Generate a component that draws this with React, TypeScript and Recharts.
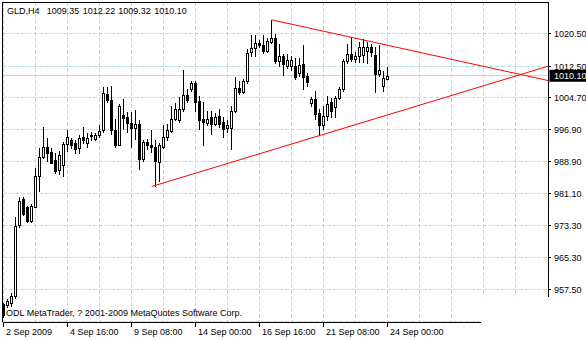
import React from "react";
import {
  ComposedChart,
  Bar,
  XAxis,
  YAxis,
  CartesianGrid,
  ReferenceLine,
  ReferenceArea,
} from "recharts";

// ---- data ----
const symbol = "GLD";
const period = "H4";
const copyright = "ODL MetaTrader, ? 2001-2009 MetaQuotes Software Corp.";

const opens = [
  953.81, 953.68, 954.18, 955.9, 973.49, 979.65, 977.68, 974.48, 977.92, 985.31,
  990.23, 992.69, 991.46, 989.49, 987.03, 988.26, 993.3, 994.17, 993.43, 992.2,
  995.15, 993.55, 995.64, 994.66, 995.4, 996.63, 1005.73, 1004.18, 996.63, 993.18,
  1000.56, 1000.07, 998.47, 997.24, 998.23, 989.66, 993.92, 993.11, 992.69, 989.0,
  992.69, 995.15, 996.45, 999.51, 999.33, 1001.97, 1005.41, 1006.89, 1008.27, 1004.01,
  999.51, 998.42, 999.9, 998.28, 1000.32, 998.67, 997.29, 997.29, 1001.55, 1007.14,
  1006.22, 1008.69, 1015.9, 1016.88, 1018.11, 1017.79, 1016.14, 1018.36, 1019.44, 1013.68,
  1015.08, 1012.62, 1012.38, 1012.62, 1010.9, 1013.04, 1009.99, 1003.44, 1004.26, 1000.98,
  998.03, 1000.32, 1003.52, 1002.36, 1004.58, 1006.72, 1013.61, 1015.5, 1014.27, 1015.08,
  1015.33, 1016.31, 1017.13, 1015.26, 1010.58, 1007.7, 1009.35,
];
const highs = [
  954.3, 955.28, 956.76, 975.22, 980.26, 980.38, 978.17, 978.66, 987.52, 992.2,
  997.37, 994.9, 992.2, 990.97, 991.7, 993.75, 996.63, 994.9, 994.17, 995.4,
  997.37, 995.96, 996.21, 995.96, 997.86, 1007.28, 1007.28, 1007.7, 999.51, 1003.27,
  1004.5, 1001.13, 1001.13, 1001.72, 999.09, 994.41, 994.58, 996.63, 994.17, 993.43,
  997.86, 998.28, 1002.78, 1003.35, 1004.82, 1011.57, 1006.96, 1008.93, 1008.93, 1005.24,
  1003.59, 1001.55, 1001.55, 1000.88, 1001.97, 1000.07, 999.09, 1002.78, 1009.74, 1008.76,
  1009.42, 1016.73, 1020.18, 1020.25, 1018.95, 1020.01, 1019.27, 1023.87, 1020.42, 1017.96,
  1015.5, 1015.5, 1014.84, 1014.35, 1014.35, 1017.55, 1010.9, 1004.99, 1006.47, 1001.97,
  1002.78, 1005.07, 1004.75, 1005.24, 1007.28, 1014.27, 1017.96, 1019.59, 1015.9, 1018.36,
  1019.19, 1018.36, 1017.96, 1017.13, 1017.55, 1011.39, 1012.22,
];
const lows = [
  950.61, 953.31, 953.56, 955.53, 973.0, 975.95, 974.23, 974.23, 977.68, 981.86,
  989.74, 989.24, 988.51, 986.29, 986.04, 985.55, 991.7, 992.44, 991.21, 990.97,
  993.67, 992.52, 994.17, 994.34, 995.15, 996.38, 1003.52, 995.89, 992.52, 992.94,
  997.12, 996.21, 992.52, 994.58, 987.2, 989.24, 992.12, 991.29, 982.85, 984.32,
  992.2, 994.17, 996.38, 999.09, 998.84, 1001.55, 1003.76, 1006.47, 1001.55, 997.12,
  993.18, 997.86, 995.89, 998.1, 997.44, 994.98, 996.21, 992.12, 1001.3, 1005.73,
  1005.98, 1008.44, 1015.08, 1014.84, 1017.3, 1015.82, 1016.07, 1018.28, 1013.36, 1012.62,
  1010.41, 1012.13, 1011.64, 1009.18, 1009.92, 1006.89, 1007.53, 1002.78, 999.58, 995.57,
  997.12, 999.09, 999.83, 999.9, 1004.5, 1006.47, 1013.36, 1013.85, 1013.44, 1013.44,
  1013.44, 1013.29, 1015.08, 1006.05, 1009.92, 1006.3, 1009.32,
];
const closes = [
  951.34, 954.67, 955.9, 973.25, 979.4, 976.2, 974.48, 978.05, 985.55, 990.23,
  992.57, 991.21, 988.75, 986.54, 990.72, 993.3, 995.15, 993.18, 992.07, 994.9,
  994.29, 994.78, 995.27, 995.57, 996.45, 1005.98, 1004.13, 996.63, 992.94, 1002.78,
  999.7, 998.47, 997.24, 998.23, 989.66, 993.92, 993.11, 992.52, 989.07, 992.94,
  995.15, 996.8, 999.51, 1001.87, 1001.97, 1005.41, 1004.18, 1008.37, 1003.76, 999.09,
  998.67, 999.51, 998.28, 1000.07, 998.28, 997.05, 998.1, 1001.55, 1007.14, 1006.22,
  1008.69, 1015.75, 1016.98, 1018.11, 1017.72, 1016.14, 1018.6, 1019.44, 1013.68, 1015.08,
  1013.04, 1014.03, 1014.1, 1009.74, 1012.87, 1009.74, 1008.51, 1004.26, 1000.74, 998.03,
  1000.32, 1003.2, 1001.55, 1004.58, 1006.72, 1013.61, 1015.5, 1014.27, 1015.08, 1017.13,
  1017.13, 1017.13, 1015.9, 1010.58, 1011.64, 1009.5, 1010.1,
];

// x axis: bar numbers carrying a date label, and bar numbers of the vertical grid
const dateTickBars = [0, 16, 32, 48, 64, 80, 96];
const dateTickLabels = [
  "2 Sep 2009",
  "4 Sep 16:00",
  "9 Sep 08:00",
  "14 Sep 00:00",
  "16 Sep 16:00",
  "21 Sep 08:00",
  "24 Sep 00:00",
];
const gridBars = [0, 8, 16, 24, 32, 40, 48, 56, 64, 72, 80, 88, 96, 104, 112, 120, 128];

// y axis: price labels, the grid line below them, and the current bid
const priceTicks = [1020.5, 1012.5, 1004.7, 996.9, 988.9, 981.1, 973.3, 965.3, 957.5];
const priceGridBelow = [949.6];
const bidPrice = 1010.1;

// trend lines drawn on the chart (bar number, price)
const upperTrend = [
  { bar: 67, price: 1023.87 },
  { bar: 136.125, price: 1008.93 },
];
const lowerTrend = [
  { bar: 37.05, price: 982.85 },
  { bar: 136.125, price: 1012.45 },
];

// visible window
const barDomain: [number, number] = [-0.25, 136.125];
const priceDomain: [number, number] = [949.502, 1028.252];
const emptyCorner = { fromBar: 119.4, belowPrice: 955.65 };

const data = opens.map((o, i) => ({
  idx: i,
  open: o,
  high: highs[i],
  low: lows[i],
  close: closes[i],
  range: [lows[i], highs[i]],
}));

const FONT = "'Liberation Sans', Arial, sans-serif";
const GRID = "#a8e2e2";

function Candle(props: any) {
  const { x, y, width, height, payload } = props;
  if (x == null || y == null || !payload) return null;
  const top0 = height >= 0 ? y : y + height;
  const h = Math.abs(height);
  const { open, close, high, low } = payload;
  const k = high > low ? h / (high - low) : 0;
  const py = (v: number) => top0 + (high - v) * k;
  const cx = Math.round((x + width / 2) * 2) / 2;
  const yH = Math.round(py(high));
  const yL = Math.round(py(low));
  const t = Math.round(Math.min(py(open), py(close))) + 0.5;
  const b = Math.round(Math.max(py(open), py(close))) + 0.5;
  const bull = close >= open;
  return (
    <g shapeRendering="crispEdges">
      <line x1={cx} x2={cx} y1={yH} y2={yL + 1} stroke="#000" strokeWidth={1} />
      <rect
        x={cx - 1}
        y={t}
        width={2}
        height={Math.max(b - t, 0)}
        fill={bull ? "#fff" : "#000"}
        stroke="#000"
        strokeWidth={1}
      />
    </g>
  );
}

function DateTick(props: any) {
  const { x, y, payload } = props;
  const pos = dateTickBars.indexOf(payload.value);
  if (pos < 0) return null;
  return (
    <g>
      <line x1={x} x2={x} y1={y} y2={y + 5} stroke="#000" strokeWidth={1} shapeRendering="crispEdges" />
      <text x={x + 2.5} y={y + 13} fontFamily={FONT} fontSize={9} fill="#000">
        {dateTickLabels[pos]}
      </text>
    </g>
  );
}

function PriceTick(props: any) {
  const { x, y, payload } = props;
  const v = payload.value;
  if (v === bidPrice) {
    return (
      <g>
        <rect x={x + 1.5} y={y - 6} width={40} height={12} fill="#000" />
        <text x={x + 6} y={y + 3.5} fontFamily={FONT} fontSize={9} fill="#fff">
          {v.toFixed(2)}
        </text>
      </g>
    );
  }
  if (priceTicks.indexOf(v) < 0) return null;
  return (
    <g>
      <line x1={x} x2={x + 3} y1={y} y2={y} stroke="#000" strokeWidth={1} shapeRendering="crispEdges" />
      <text x={x + 6} y={y + 3.5} fontFamily={FONT} fontSize={9} fill="#000">
        {v.toFixed(2)}
      </text>
    </g>
  );
}

export default function App() {
  const last = data[data.length - 1];
  const headerNums = [last.open, last.high, last.low, last.close].map((v) => v.toFixed(2));
  const headerX = [46.7, 82.7, 118.3, 154.3];
  return (
    <div style={{ position: "absolute", left: 0, top: 0, width: 586, height: 340, background: "#fff" }}>
      <ComposedChart
        width={586}
        height={340}
        data={data}
        margin={{ top: 2, right: 0, bottom: 0, left: 2.5 }}
      >
        <CartesianGrid stroke={GRID} strokeDasharray="4 2" shapeRendering="crispEdges" />
        <XAxis
          type="number"
          dataKey="idx"
          domain={barDomain}
          allowDataOverflow
          ticks={gridBars}
          interval={0}
          tickSize={0}
          tickMargin={0}
          axisLine={false}
          tickLine={false}
          height={18}
          tick={<DateTick />}
        />
        <YAxis
          type="number"
          orientation="right"
          domain={priceDomain}
          allowDataOverflow
          ticks={[...priceTicks, bidPrice, ...priceGridBelow]}
          interval={0}
          tickSize={0}
          tickMargin={0}
          axisLine={false}
          tickLine={false}
          width={38}
          tick={<PriceTick />}
        />
        <ReferenceArea
          x1={emptyCorner.fromBar}
          x2={barDomain[1] + 1}
          y1={priceDomain[0] - 1}
          y2={emptyCorner.belowPrice}
          fill="#fff"
          fillOpacity={1}
          stroke="#fff"
          strokeWidth={1}
          ifOverflow="visible"
          zIndex={-50}
        />
        <ReferenceLine y={bidPrice} stroke={GRID} strokeWidth={1} ifOverflow="visible" shapeRendering="crispEdges" zIndex={-40} />
        <ReferenceLine x={barDomain[0]} stroke="#000" ifOverflow="visible" shapeRendering="crispEdges" />
        <ReferenceLine y={priceDomain[1]} stroke="#000" ifOverflow="visible" shapeRendering="crispEdges" />
        <ReferenceLine
          segment={[
            { x: barDomain[1], y: priceDomain[1] },
            { x: barDomain[1], y: emptyCorner.belowPrice },
          ]}
          stroke="#000"
          ifOverflow="visible"
          shapeRendering="crispEdges"
        />
        <ReferenceLine
          segment={[
            { x: barDomain[0], y: priceDomain[0] },
            { x: emptyCorner.fromBar, y: priceDomain[0] },
          ]}
          stroke="#000"
          ifOverflow="visible"
          shapeRendering="crispEdges"
        />
        <Bar dataKey="range" barSize={4} shape={<Candle />} isAnimationActive={false} />
        <ReferenceLine
          segment={upperTrend.map((p) => ({ x: p.bar, y: p.price }))}
          stroke="#ff0000"
          strokeWidth={1}
          ifOverflow="visible"
        />
        <ReferenceLine
          segment={lowerTrend.map((p) => ({ x: p.bar, y: p.price }))}
          stroke="#ff0000"
          strokeWidth={1}
          ifOverflow="visible"
        />
      </ComposedChart>
      <svg
        width={586}
        height={340}
        style={{ position: "absolute", left: 0, top: 0, pointerEvents: "none" }}
      >
        <text x={7} y={14} fontFamily={FONT} fontSize={9} fill="#000">
          {`${symbol},${period}`}
        </text>
        {headerNums.map((s, i) => (
          <text key={i} x={headerX[i]} y={14} fontFamily={FONT} fontSize={9} fill="#000">
            {s}
          </text>
        ))}
        <text x={6} y={315.5} fontFamily={FONT} fontSize={9} fill="#000">
          {copyright}
        </text>
      </svg>
    </div>
  );
}
